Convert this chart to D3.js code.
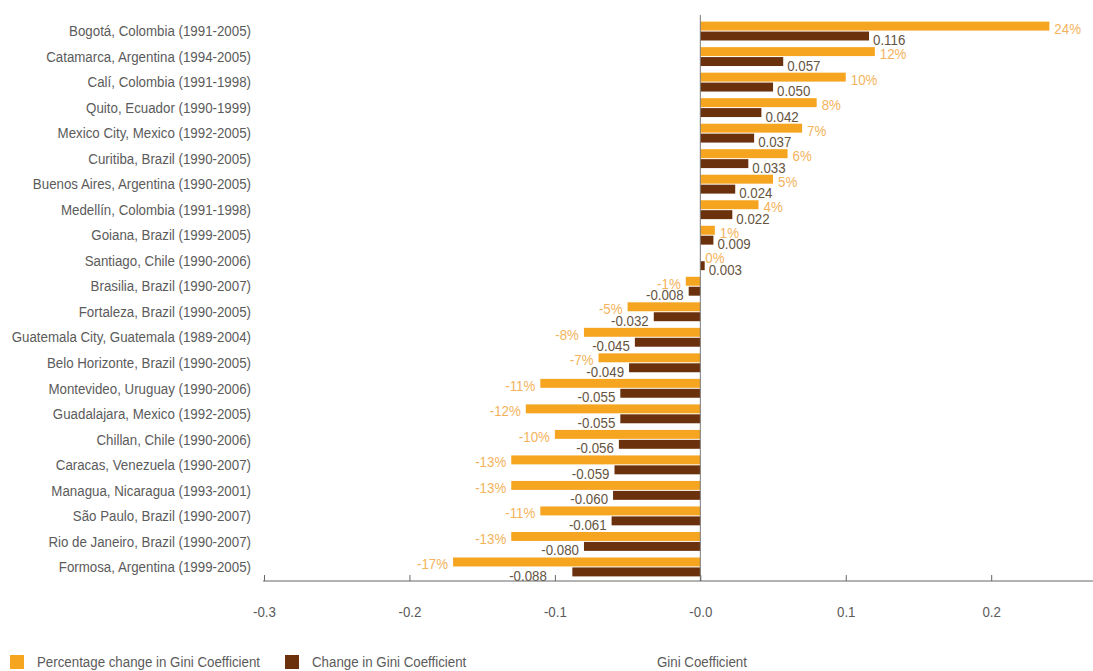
<!DOCTYPE html>
<html>
<head>
<meta charset="utf-8">
<script src="https://cdn.jsdelivr.net/npm/d3@7"></script>
<style>
  html, body { margin: 0; padding: 0; background: #fff; }
  svg { display: block; }
  text { font-family: "Liberation Sans", Arial, sans-serif; }
</style>
</head>
<body>
<svg id="chart" width="1093" height="671"></svg>
<script>
// Cities with the period over which the Gini change is measured
const cities = [
  "Bogotá, Colombia (1991-2005)",
  "Catamarca, Argentina (1994-2005)",
  "Calí, Colombia (1991-1998)",
  "Quito, Ecuador (1990-1999)",
  "Mexico City, Mexico (1992-2005)",
  "Curitiba, Brazil (1990-2005)",
  "Buenos Aires, Argentina (1990-2005)",
  "Medellín, Colombia (1991-1998)",
  "Goiana, Brazil (1999-2005)",
  "Santiago, Chile (1990-2006)",
  "Brasilia, Brazil (1990-2007)",
  "Fortaleza, Brazil (1990-2005)",
  "Guatemala City, Guatemala (1989-2004)",
  "Belo Horizonte, Brazil (1990-2005)",
  "Montevideo, Uruguay (1990-2006)",
  "Guadalajara, Mexico (1992-2005)",
  "Chillan, Chile (1990-2006)",
  "Caracas, Venezuela (1990-2007)",
  "Managua, Nicaragua (1993-2001)",
  "São Paulo, Brazil (1990-2007)",
  "Rio de Janeiro, Brazil (1990-2007)",
  "Formosa, Argentina (1999-2005)"
];

// Percentage change in Gini coefficient (%)
const pctChange = [24, 12, 10, 8, 7, 6, 5, 4, 1, 0, -1, -5, -8, -7, -11, -12, -10, -13, -13, -11, -13, -17];

// Absolute change in Gini coefficient
const giniChange = [0.116, 0.057, 0.050, 0.042, 0.037, 0.033, 0.024, 0.022, 0.009, 0.003,
  -0.008, -0.032, -0.045, -0.049, -0.055, -0.055, -0.056, -0.059, -0.060, -0.061, -0.080, -0.088];

// Axis ticks
const tickValues = [-0.3, -0.2, -0.1, 0.0, 0.1, 0.2];
const tickLabels = ["-0.3", "-0.2", "-0.1", "-0.0", "0.1", "0.2"];

const seriesNames = ["Percentage change in Gini Coefficient", "Change in Gini Coefficient"];
const axisTitle = "Gini Coefficient";

const ORANGE = "#f6a521";
const BROWN = "#6b300c";
const PCT_TEXT = "#f3b35c";
const VAL_TEXT = "#65543f";
const GREY_TEXT = "#5b5b5b";
const CONDENSE = 0.95;   // narrow the sans face horizontally
const FS = 14;

// Squeeze a text selection horizontally while keeping its anchor in place
function condense(sel) {
  sel.each(function () {
    const w = this.getComputedTextLength();
    if (w > 0) {
      d3.select(this)
        .attr("textLength", w * CONDENSE)
        .attr("lengthAdjust", "spacingAndGlyphs");
    }
  });
}

const svg = d3.select("#chart");

const x = d3.scaleLinear().domain([-0.3, 0.27]).range([264, 1093]);
const y = d3.scaleBand().domain(cities).range([18.3, 579.7]).paddingInner(0.26).paddingOuter(0.13);
const sub = d3.scaleBand().domain(["pct", "val"]).range([0, y.bandwidth()]).paddingInner(0.1);

const rows = cities.map((c, i) => ({ city: c, pct: pctChange[i], val: giniChange[i] }));

// City labels
svg.append("g").selectAll("text").data(rows).join("text")
  .attr("x", 251)
  .attr("y", d => y(d.city) + y.bandwidth() / 2 + 1.5)
  .attr("text-anchor", "end")
  .attr("dominant-baseline", "middle")
  .attr("font-size", FS)
  .attr("fill", GREY_TEXT)
  .text(d => d.city)
  .call(condense);

const bars = svg.append("g");

// Percentage bars (drawn as a fraction on the same axis)
bars.selectAll("rect.pct").data(rows).join("rect")
  .attr("class", "pct")
  .attr("x", d => x(Math.min(0, d.pct / 100)))
  .attr("y", d => y(d.city) + sub("pct"))
  .attr("width", d => Math.abs(x(d.pct / 100) - x(0)))
  .attr("height", sub.bandwidth())
  .attr("fill", ORANGE);

// Gini change bars
bars.selectAll("rect.val").data(rows).join("rect")
  .attr("class", "val")
  .attr("x", d => x(Math.min(0, d.val)))
  .attr("y", d => y(d.city) + sub("val"))
  .attr("width", d => Math.abs(x(d.val) - x(0)))
  .attr("height", sub.bandwidth())
  .attr("fill", BROWN);

// Percentage labels
svg.append("g").selectAll("text").data(rows).join("text")
  .attr("x", d => d.pct >= 0 ? x(d.pct / 100) + 5 : x(d.pct / 100) - 5)
  .attr("y", d => y(d.city) + sub("pct") + sub.bandwidth() + 3)
  .attr("text-anchor", d => d.pct >= 0 ? "start" : "end")
  .attr("font-size", FS)
  .attr("fill", PCT_TEXT)
  .text(d => d.pct + "%")
  .call(condense);

// Gini change labels; a label on the bottom row steps left of any tick it would cover
const valLabels = svg.append("g").selectAll("text").data(rows).join("text")
  .attr("x", d => d.val >= 0 ? x(d.val) + 4 : x(d.val) - 5)
  .attr("y", d => y(d.city) + sub("val") + sub.bandwidth() + 4.5)
  .attr("text-anchor", d => d.val >= 0 ? "start" : "end")
  .attr("font-size", FS)
  .attr("fill", VAL_TEXT)
  .text(d => d3.format(".3f")(d.val).replace("−", "-"))
  .call(condense);

valLabels.filter((d, i) => i === rows.length - 1 && d.val < 0).each(function (d) {
  const end = x(d.val) - 5;
  const w = this.getComputedTextLength() * CONDENSE;
  tickValues.forEach(t => {
    const tx = x(t);
    if (t !== 0 && tx > end - w - 2 && tx < end + 2) {
      d3.select(this).attr("x", tx - 8);
    }
  });
});

// Zero line
svg.append("line")
  .attr("x1", x(0)).attr("x2", x(0))
  .attr("y1", 15).attr("y2", 581)
  .attr("stroke", "#777").attr("stroke-width", 1);

// Bottom axis with ticks pointing up
const axis = d3.axisBottom(x)
  .tickValues(tickValues)
  .tickFormat((d, i) => tickLabels[i])
  .tickSizeInner(-6)
  .tickSizeOuter(0)
  .tickPadding(26);

const gx = svg.append("g").attr("transform", "translate(0,581)").call(axis);
gx.select(".domain").attr("stroke", "#666").attr("d", `M${x(-0.3) - 1},0H1093`);
gx.selectAll(".tick line").attr("stroke", "#666");
gx.selectAll(".tick text")
  .attr("font-size", FS)
  .attr("fill", GREY_TEXT)
  .attr("font-family", null)
  .call(condense);

// Legend
const legend = svg.append("g");
const legendItems = [
  { name: seriesNames[0], color: ORANGE, x: 10 },
  { name: seriesNames[1], color: BROWN, x: 285 }
];
legend.selectAll("rect").data(legendItems).join("rect")
  .attr("x", d => d.x).attr("y", 655)
  .attr("width", 14).attr("height", 14)
  .attr("fill", d => d.color);
legend.selectAll("text").data(legendItems).join("text")
  .attr("x", d => d.x + 27).attr("y", 663)
  .attr("dominant-baseline", "middle")
  .attr("font-size", FS)
  .attr("fill", GREY_TEXT)
  .text(d => d.name)
  .call(condense);

svg.append("text")
  .attr("x", 657).attr("y", 663)
  .attr("dominant-baseline", "middle")
  .attr("font-size", FS)
  .attr("fill", GREY_TEXT)
  .text(axisTitle)
  .call(condense);
</script>
</body>
</html>
